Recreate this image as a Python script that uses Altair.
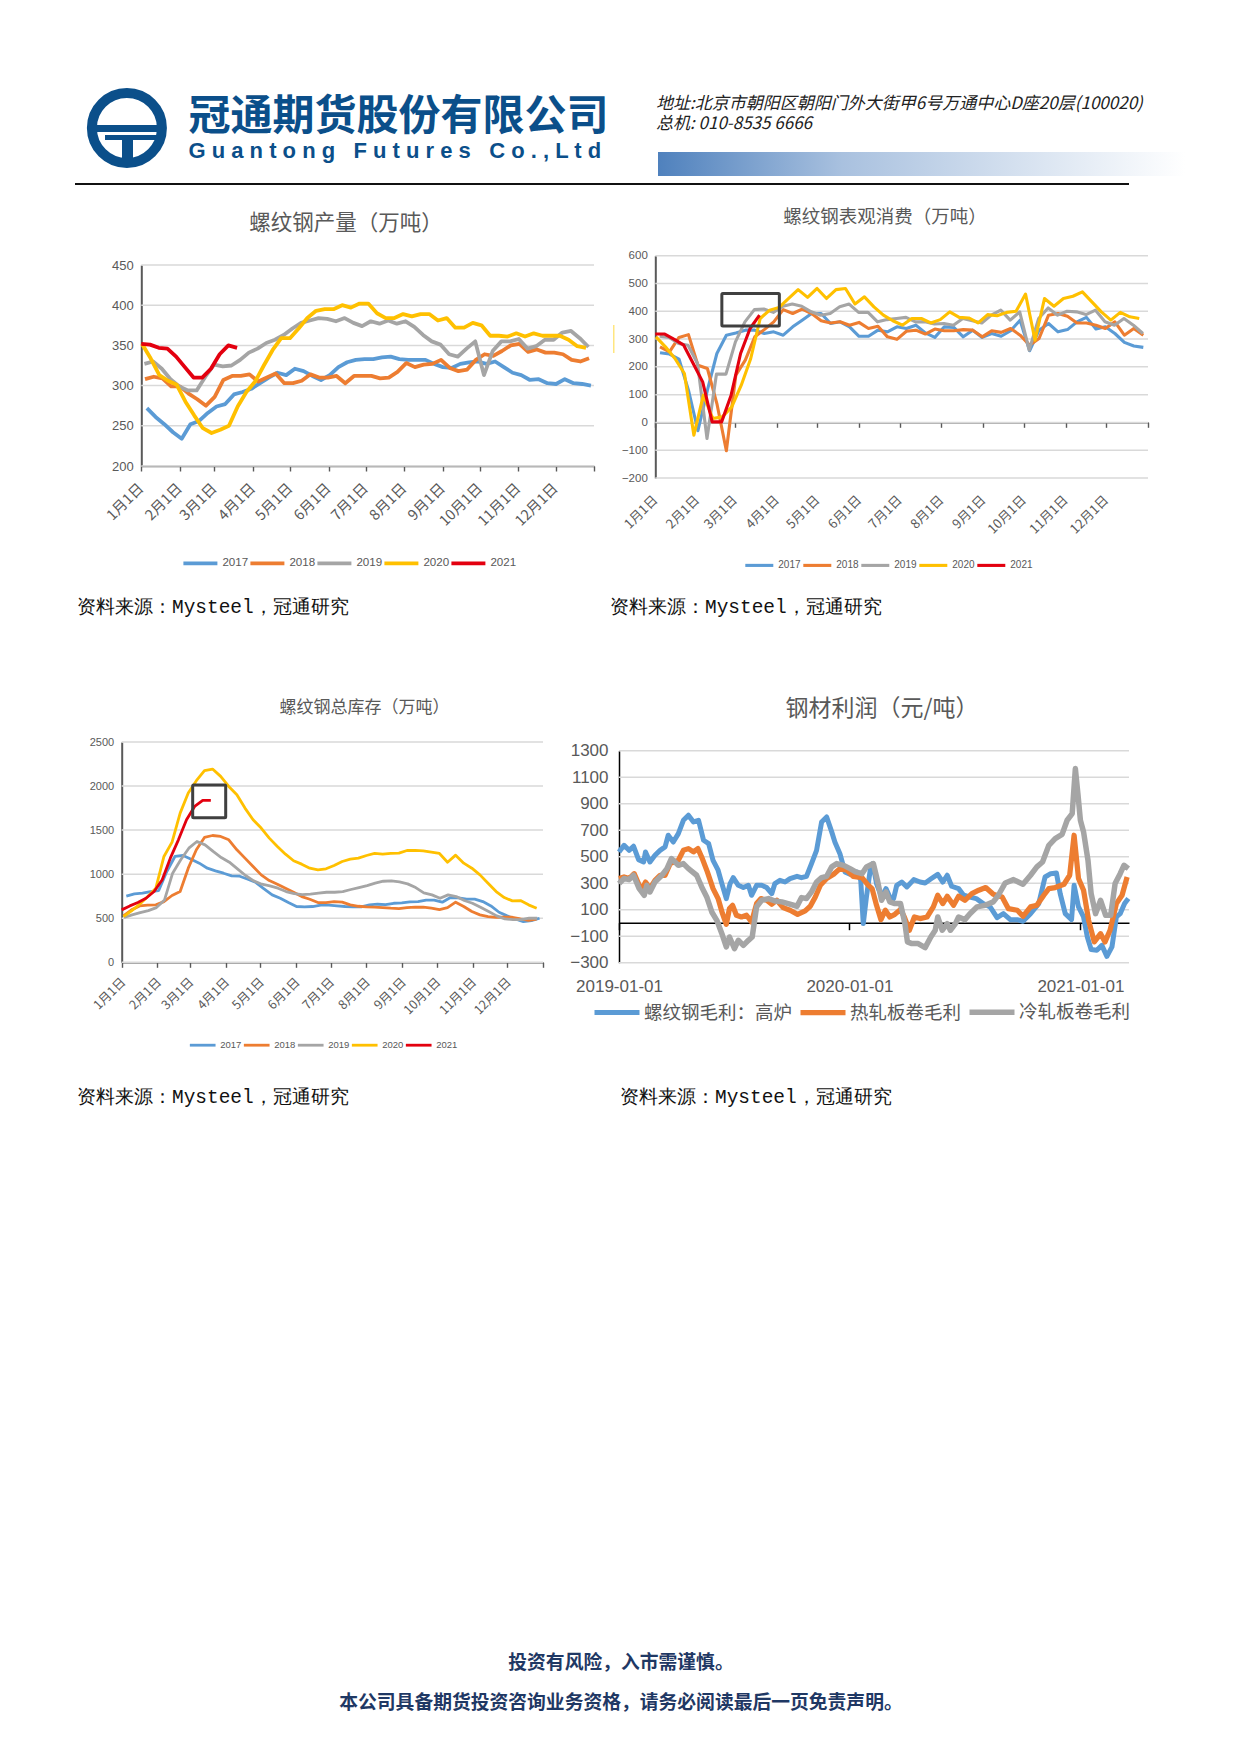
import json
import altair as alt
import pandas as pd

YEARS = ["2017", "2018", "2019", "2020", "2021"]
YEAR_COLORS = ["#5B9BD5", "#ED7D31", "#A5A5A5", "#FFC000", "#E3000F"]
MONTH_TICKS = [0, 31, 59, 90, 120, 151, 181, 212, 243, 273, 304, 334, 365]
MONTH_LABELS = ["1月1日", "2月1日", "3月1日", "4月1日", "5月1日", "6月1日", "7月1日", "8月1日",
                "9月1日", "10月1日", "11月1日", "12月1日", ""]

# panel 1: output
out_2017 = [272, 261, 252, 242, 234, 252, 256, 266, 274, 277, 289, 292, 296, 303, 310, 316, 313, 321, 318, 312,
            307, 313, 323, 329, 332, 333, 333, 335, 336, 333, 332, 332, 332, 327, 323, 322, 327, 329, 330, 327,
            330, 323, 316, 313, 307, 308, 303, 302, 308, 303, 302, 300]
out_2018 = [308, 311, 309, 299, 299, 290, 283, 275, 286, 307, 312, 312, 314, 305, 310, 315, 303, 303, 306, 314,
            310, 310, 312, 303, 312, 312, 312, 309, 310, 317, 328, 323, 326, 327, 332, 322, 318, 320, 332, 339,
            337, 343, 350, 352, 342, 345, 341, 341, 339, 332, 330, 334]
out_2019 = [327, 330, 321, 308, 299, 294, 294, 311, 326, 324, 325, 332, 341, 346, 353, 357, 363, 371, 378, 381,
            384, 383, 380, 384, 378, 374, 380, 377, 381, 377, 380, 373, 363, 355, 351, 339, 336, 346, 355, 313,
            343, 355, 355, 358, 346, 349, 357, 357, 366, 368, 359, 348]
out_2020 = [352, 334, 313, 306, 301, 280, 263, 247, 241, 245, 250, 274, 292, 305, 325, 344, 359, 359, 371, 384,
            393, 395, 395, 400, 397, 402, 402, 390, 384, 384, 389, 386, 389, 389, 381, 384, 372, 372, 378, 375,
            362, 362, 361, 365, 361, 365, 362, 362, 362, 357, 349, 347]
out_2021 = [352, 351, 347, 346, 336, 323, 310, 310, 321, 339, 350, 347]

# panel 2: apparent consumption
con_2017 = [251, 246, 228, 116, -30, 116, 248, 314, 322, 332, 332, 320, 326, 314, 344, 368, 392, 392, 356, 362,
            344, 310, 310, 332, 326, 344, 338, 350, 322, 306, 344, 342, 308, 332, 306, 320, 310, 330, 368, 258,
            332, 356, 326, 334, 362, 378, 336, 344, 320, 288, 275, 270]
con_2018 = [272, 254, 306, 316, 206, 194, 68, -102, 170, 224, 308, 334, 362, 406, 392, 408, 392, 366, 358, 362,
            350, 360, 338, 346, 308, 299, 328, 332, 318, 336, 330, 330, 334, 332, 308, 330, 324, 338, 314, 278,
            302, 386, 392, 382, 358, 358, 350, 338, 362, 314, 338, 314]
con_2019 = [310, 306, 284, 278, 212, -58, 174, 174, 290, 362, 406, 408, 396, 418, 426, 418, 398, 386, 392, 416,
            426, 396, 396, 362, 370, 374, 378, 362, 362, 354, 356, 350, 374, 366, 358, 386, 404, 368, 398, 260,
            374, 412, 386, 400, 398, 388, 404, 362, 350, 374, 350, 320]
con_2020 = [308, 272, 230, 176, -46, 98, 14, 20, 56, 134, 230, 374, 404, 414, 446, 478, 450, 482, 446, 478,
            482, 426, 452, 416, 386, 366, 350, 374, 374, 358, 370, 398, 378, 376, 358, 388, 384, 396, 400, 462,
            296, 446, 418, 446, 454, 470, 434, 398, 368, 396, 380, 374]
con_2021 = [318, 318, 299, 278, 212, 146, 2, 2, 98, 248, 338, 386]

# panel 3: total inventory
inv_2017 = [750, 776, 784, 803, 814, 1030, 1201, 1212, 1170, 1125, 1068, 1038, 1011, 981, 977, 943, 905, 833, 765, 727,
            678, 633, 629, 633, 648, 648, 640, 633, 629, 629, 652, 659, 655, 670, 674, 686, 689, 705, 705, 682,
            735, 731, 716, 716, 689, 640, 568, 527, 492, 462, 473, 500]
inv_2018 = [527, 595, 640, 648, 652, 689, 758, 803, 1068, 1277, 1417, 1439, 1428, 1390, 1277, 1182, 1087, 992, 928, 886,
            841, 795, 746, 716, 678, 678, 689, 682, 652, 636, 629, 625, 621, 614, 610, 621, 625, 625, 614, 598,
            621, 682, 633, 576, 538, 519, 511, 511, 511, 492, 477, 489]
inv_2019 = [508, 538, 564, 587, 621, 708, 1011, 1163, 1295, 1371, 1333, 1258, 1189, 1136, 1061, 985, 924, 886, 867, 841,
            803, 780, 769, 773, 784, 795, 795, 803, 826, 848, 871, 898, 920, 924, 913, 890, 848, 788, 765, 727,
            765, 746, 701, 670, 625, 576, 527, 492, 485, 485, 500, 500]
inv_2020 = [519, 583, 659, 746, 841, 1201, 1364, 1693, 1921, 2061, 2174, 2193, 2110, 1996, 1902, 1750, 1617, 1523, 1409, 1314,
            1227, 1152, 1114, 1068, 1049, 1061, 1098, 1144, 1170, 1182, 1212, 1235, 1227, 1235, 1239, 1269, 1269, 1265, 1250, 1235,
            1136, 1216, 1125, 1068, 992, 898, 803, 735, 697, 701, 652, 614]
inv_2021 = [595, 640, 678, 727, 803, 936, 1182, 1390, 1617, 1769, 1837, 1837]

# panel 4: profit (days since 2019-01-01, value)
rebar_days = [0, 8, 16, 23, 31, 39, 42, 49, 57, 65, 73, 78, 86, 94, 102, 110, 118, 126, 134, 142, 149, 157, 163, 170,
              176, 181, 189, 197, 205, 210, 218, 226, 234, 242, 247, 255, 263, 271, 282, 289, 297, 305, 313, 321,
              329, 337, 342, 350, 358, 366, 377, 383, 387, 392, 398, 402, 408, 416, 423, 429, 435, 440, 448, 456,
              467, 477, 485, 495, 505, 513, 520, 527, 538, 546, 556, 566, 577, 588, 599, 609, 620, 631, 640, 652,
              665, 675, 684, 693, 699, 707, 717, 721, 728, 736, 742, 748, 757, 765, 773, 781, 788, 794, 801, 807]
rebar_vals = [536, 586, 548, 579, 478, 460, 536, 460, 511, 548, 574, 662, 611, 674, 775, 813, 762, 775, 624, 599, 473,
              398, 297, 184, 297, 342, 284, 267, 284, 209, 284, 284, 267, 221, 297, 322, 309, 335, 352, 342, 352, 448,
              548, 762, 800, 687, 611, 523, 385, 367, 385, 322, -5, 196, 398, 448, 297, 196, 259, 196, 184, 284, 309,
              272, 327, 309, 302, 335, 367, 309, 360, 277, 259, 209, 196, 184, 146, 121, 40, 70, 25, 25, 13, 70, 146,
              347, 372, 377, 221, 70, 25, 284, 121, 45, -106, -201, -206, -169, -252, -181, 45, 70, 146, 184]
hot_days = [0, 8, 16, 24, 32, 37, 42, 49, 57, 65, 73, 81, 94, 102, 110, 118, 125, 132, 140, 149, 157, 164, 170, 175,
            180, 186, 194, 202, 210, 218, 225, 234, 242, 250, 260, 271, 283, 295, 303, 311, 319, 329, 340, 350, 361,
            371, 385, 395, 401, 408, 415, 422, 429, 437, 446, 452, 460, 468, 477, 488, 498, 505, 513, 520, 530, 538,
            548, 559, 570, 581, 593, 607, 617, 631, 640, 652, 662, 673, 681, 691, 705, 714, 721, 728, 736, 744, 753,
            763, 770, 778, 788, 797, 805]
hot_vals = [335, 347, 335, 372, 284, 259, 309, 259, 322, 360, 360, 448, 473, 548, 561, 536, 561, 486, 385, 259, 184, 70,
            -10, 108, 133, 58, 45, 58, 8, 146, 184, 171, 141, 171, 116, 96, 65, 91, 126, 196, 284, 335, 367, 410, 398,
            352, 342, 284, 259, 133, 25, 96, 45, 65, 101, 45, -55, 45, 33, 45, 121, 209, 146, 201, 133, 201, 171, 221,
            247, 267, 216, 196, 108, 96, 50, 121, 133, 209, 259, 267, 292, 360, 662, 335, 247, 20, -143, -81, -143,
            -55, 146, 209, 347]
cold_days = [0, 8, 16, 23, 32, 40, 44, 49, 57, 68, 76, 83, 94, 102, 110, 123, 131, 139, 147, 155, 163, 170, 175, 183,
             189, 197, 205, 211, 218, 226, 237, 247, 258, 268, 282, 289, 297, 305, 313, 321, 329, 337, 345, 356, 366,
             375, 385, 392, 403, 410, 416, 423, 429, 437, 446, 453, 457, 464, 474, 485, 494, 501, 505, 512, 520, 525,
             533, 538, 548, 556, 567, 580, 593, 601, 612, 625, 640, 652, 662, 671, 681, 691, 702, 710, 718, 723, 727,
             731, 736, 743, 748, 755, 763, 771, 779, 786, 794, 800, 807]
cold_vals = [297, 335, 327, 360, 259, 209, 284, 234, 309, 360, 410, 486, 435, 448, 410, 360, 272, 196, 83, 20, -81, -181,
             -106, -194, -131, -169, -131, -106, 121, 171, 184, 166, 159, 146, 126, 191, 184, 234, 309, 342, 352, 423,
             448, 435, 410, 385, 372, 423, 448, 309, 171, 234, 159, 146, 146, -5, -143, -156, -156, -186, -106, -55, 45,
             -55, -5, -55, -5, 45, 25, 70, 121, 133, 159, 209, 302, 327, 292, 360, 423, 460, 586, 637, 669, 775, 825,
             1165, 976, 775, 687, 473, 221, 70, 171, 58, 58, 297, 372, 435, 410]
PROFIT_NAMES = ["螺纹钢毛利：高炉", "热轧板卷毛利", "冷轧板卷毛利"]
PROFIT_COLORS = ["#5B9BD5", "#ED7D31", "#A5A5A5"]
PROFIT_WIDTHS = [5, 5.5, 2.6]

SOURCE = "资料来源：Mysteel，冠通研究"
CJK = "Noto Sans CJK SC"
GRAY = "#595959"
GRID = "#D9D9D9"
CANVAS_W, CANVAS_H = 1225, 1738


def year_frame(series, starts):
    rows = []
    for year, values, start in zip(YEARS, series, starts):
        for i, v in enumerate(values):
            rows.append({"day": start + 7.02 * i, "value": v, "year": year})
    return pd.DataFrame(rows)


def grid_layer(ticks, y, left, right):
    return alt.Chart(pd.DataFrame({"value": ticks})).mark_rule(color=GRID, strokeWidth=1.5).encode(
        y=y, x=alt.value(left - 8), x2=alt.value(right - 8))


def season_panel(series, starts, domain, yticks, box_page, font, yfont, sw, axis_y, lab_pad, lab_off, legend, box=None, dom_col=GRAY):
    left, right, top, bottom = box_page
    labels_json = json.dumps(MONTH_LABELS, ensure_ascii=False)
    ticks_json = json.dumps(MONTH_TICKS)
    x_axis = alt.Axis(values=MONTH_TICKS, orient="bottom", labelExpr=f"{labels_json}[indexof({ticks_json}, datum.value)]",
                      labelAngle=-45, labelAlign="right", labelBaseline="top", labelFontSize=font,
                      labelColor=GRAY, labelFont=CJK, labelPadding=lab_pad, labelOffset=lab_off, labelOverlap=False,
                      labelFlush=False, offset=-(CANVAS_H - (axis_y - 8)), domainColor=dom_col, domainWidth=1.6,
                      tickColor=dom_col, tickWidth=1.4, tickSize=5, grid=False, title=None)
    y_axis = alt.Axis(values=yticks, orient="left", format="d", labelFontSize=yfont, labelColor=GRAY,
                      labelFont="Liberation Sans", labelPadding=8, labelOverlap=False, ticks=False,
                      offset=-(left - 8), domainColor=dom_col, domainWidth=2, grid=False, title=None)
    x = alt.X("day:Q", scale=alt.Scale(domain=[0, 365], range=[left - 8, right - 8], nice=False, zero=False), axis=x_axis)
    y = alt.Y("value:Q", scale=alt.Scale(domain=domain, range=[bottom - 8, top - 8], nice=False, zero=False), axis=y_axis)
    lines = alt.Chart(year_frame(series, starts)).mark_line(strokeWidth=sw, strokeJoin="round", interpolate="linear").encode(
        x=x, y=y, color=alt.Color("year:N", scale=alt.Scale(domain=YEARS, range=YEAR_COLORS),
                                  legend=alt.Legend(orient="none", direction="horizontal", columns=5, title=None,
                                                    symbolType="stroke", symbolStrokeWidth=sw,
                                                    legendX=legend[0] - 8, legendY=legend[1] - 8 - 15 - legend[3] / 2,
                                                    symbolSize=legend[2] ** 2, labelFontSize=legend[3],
                                                    labelColor=GRAY, labelFont="Liberation Sans",
                                                    labelOffset=3, columnPadding=legend[4], padding=0)),
        detail="year:N", order="day:Q")
    layers = [grid_layer(yticks, y, left, right), lines]
    if box:
        b = pd.DataFrame([{"day": box[0], "day2": box[1], "value": box[2], "value2": box[3]}])
        layers.append(alt.Chart(b).mark_rect(fillOpacity=0, stroke="#404040", strokeWidth=3, cornerRadius=1).encode(
            x=x, x2=alt.X2("day2:Q"), y=y, y2=alt.Y2("value2:Q")))
    return alt.layer(*layers)


def profit_panel(left, right, top, bottom, axis_y):
    rows = []
    for name, days, vals in zip(PROFIT_NAMES, [rebar_days, hot_days, cold_days], [rebar_vals, hot_vals, cold_vals]):
        for d, v in zip(days, vals):
            rows.append({"day": d, "value": v, "name": name})
    x_ticks = [0, 365, 731]
    x_labels = ["2019-01-01", "2020-01-01", "2021-01-01"]
    yticks = list(range(-300, 1301, 200))
    x_axis = alt.Axis(values=x_ticks, orient="bottom",
                      labelExpr=f"{json.dumps(x_labels)}[indexof({json.dumps(x_ticks)}, datum.value)]",
                      labelAngle=0, labelAlign="center", labelBaseline="top", labelFontSize=17, labelColor=GRAY,
                      labelFont="Liberation Sans", labelPadding=49, labelFlush=False, labelOverlap=False,
                      offset=-(CANVAS_H - (axis_y - 8)),
                      domainColor="#000000", domainWidth=1.5, tickColor="#000000", tickWidth=1.5, tickSize=7,
                      grid=False, title=None)
    y_axis = alt.Axis(values=yticks, orient="left", format="d", labelFontSize=17, labelColor=GRAY,
                      labelFont="Liberation Sans", labelPadding=11, labelOverlap=False, ticks=False,
                      offset=-(left - 8), domainColor="#000000", domainWidth=1.5, grid=False, title=None)
    legend = alt.Legend(orient="none", direction="horizontal", columns=3, title=None, symbolType="stroke",
                        legendX=591.5 - 8, legendY=1010.5 - 8 - 15 - 9, symbolSize=45 ** 2, labelFontSize=18.5,
                        labelColor=GRAY, labelFont=CJK, labelOffset=1.5, columnPadding=-3, padding=0, labelLimit=200)
    x = alt.X("day:Q", scale=alt.Scale(domain=[0, 808], range=[left - 8, right - 8], nice=False, zero=False), axis=x_axis)
    y = alt.Y("value:Q", scale=alt.Scale(domain=[-300, 1300], range=[bottom - 8, top - 8], nice=False, zero=False), axis=y_axis)
    lines = alt.Chart(pd.DataFrame(rows)).mark_line(strokeJoin="round").encode(
        x=x, y=y,
        color=alt.Color("name:N", scale=alt.Scale(domain=PROFIT_NAMES, range=PROFIT_COLORS), legend=legend),
        strokeWidth=alt.StrokeWidth("name:N", scale=alt.Scale(domain=PROFIT_NAMES, range=PROFIT_WIDTHS), legend=legend),
        order="day:Q")
    return alt.layer(grid_layer(yticks, y, left, right), lines)


def text_mark(t, x, y, size, color, font=CJK, weight="normal", italic=False, align="left"):
    kw = {"fontStyle": "italic"} if italic else {}
    return alt.Chart(pd.DataFrame({"t": [t]})).mark_text(
        fontSize=size, color=color, font=font, fontWeight=weight, align=align, baseline="middle", **kw
    ).encode(text="t:N", x=alt.value(x - 8), y=alt.value(y - 8))


def rect_mark(x1, x2, y1, y2, color):
    return alt.Chart(pd.DataFrame({"k": [0]})).mark_rect(color=color).encode(
        x=alt.value(x1 - 8), x2=alt.value(x2 - 8), y=alt.value(y1 - 8), y2=alt.value(y2 - 8))


BLUE = "#0B4F8A"
NAVY = "#1F3864"
ring = alt.Chart(pd.DataFrame({"k": [0]})).mark_point(shape="circle", size=4900, strokeWidth=10, color=BLUE, filled=False, opacity=1).encode(
    x=alt.value(126.9 - 8), y=alt.value(128 - 8))
gradient = alt.Gradient(gradient="linear", x1=0, x2=1, y1=0, y2=0,
                        stops=[alt.GradientStop(color="#4F81BD", offset=0), alt.GradientStop(color="#A9C1DF", offset=0.35),
                               alt.GradientStop(color="#FFFFFF", offset=1)])
latin = "\u00a0\u00a0\u00a0".join(" ".join(word) for word in ["Guantong", "Futures", "Co.,Ltd"])

p1 = season_panel([out_2017, out_2018, out_2019, out_2020, out_2021], [4.5, 3, 2.5, 0.5, 0],
                  [200, 450], [200, 250, 300, 350, 400, 450], (141.3, 594, 265, 466), 14.5, 13, 3.8, 466, 10, -5,
                  (181.4, 565, 34, 11.6, -7))
p2 = season_panel([con_2017, con_2018, con_2019, con_2020, con_2021], [3.5, 3.5, 3.2, 0.5, 0],
                  [-200, 600], list(range(-200, 601, 100)), (655.3, 1148, 255.7, 478), 13, 11.5, 3.1, 422.3, 66, -4.5,
                  (743.3, 569, 28, 10, -10.5), box=(49.3, 91.9, 347, 464))
p3 = season_panel([inv_2017, inv_2018, inv_2019, inv_2020, inv_2021], [4, 1.5, 2, 1.5, 0],
                  [0, 2500], [0, 500, 1000, 1500, 2000, 2500], (121.7, 543, 742, 962.3), 12.5, 11, 2.8, 962.3, 8, -3,
                  (188.2, 1050, 25.7, 9.5, -13.5), box=(61.5, 90.1, 1641, 2012))
p4 = profit_panel(619, 1129, 750.7, 962.7, 922.7)

chart = alt.layer(
    ring,
    rect_mark(92, 160, 125, 132, BLUE),
    rect_mark(105, 156, 135, 140, BLUE),
    rect_mark(122, 133, 140, 160, BLUE),
    text_mark("冠通期货股份有限公司", 188.5, 117, 42, BLUE, weight="bold"),
    text_mark(latin, 188.5, 151, 22, BLUE, font="Liberation Sans", weight="bold"),
    text_mark("地址:北京市朝阳区朝阳门外大街甲6号万通中心D座20层(100020)", 656, 103.5, 17, "#222222", italic=True),
    text_mark("总机: 010-8535 6666", 656, 123.5, 17, "#222222", italic=True),
    rect_mark(658, 1185, 152, 176, gradient),
    rect_mark(75, 1129, 183, 185, "#111111"),
    rect_mark(613, 614.5, 325, 353, "#FFE680"),
    text_mark("螺纹钢产量（万吨）", 346, 223.5, 21.5, GRAY, align="center"),
    text_mark("螺纹钢表观消费（万吨）", 885, 216.7, 18.5, GRAY, align="center"),
    text_mark("螺纹钢总库存（万吨）", 364.4, 708, 17, GRAY, align="center"),
    text_mark("钢材利润（元/吨）", 882, 708.6, 23, GRAY, align="center"),
    p1, p2, p3, p4,
    text_mark(SOURCE, 77, 607, 19.45, "#111111", font="Liberation Mono"),
    text_mark(SOURCE, 610, 607, 19.45, "#111111", font="Liberation Mono"),
    text_mark(SOURCE, 77, 1097, 19.45, "#111111", font="Liberation Mono"),
    text_mark(SOURCE, 620, 1097, 19.45, "#111111", font="Liberation Mono"),
    text_mark("投资有风险，入市需谨慎。", 621, 1662.5, 18.8, NAVY, weight="bold", align="center"),
    text_mark("本公司具备期货投资咨询业务资格，请务必阅读最后一页免责声明。", 621, 1703, 18.8, NAVY, weight="bold", align="center"),
).resolve_scale(x="independent", y="independent", color="independent", strokeWidth="independent").properties(
    width=CANVAS_W, height=CANVAS_H, autosize="none", padding=0).configure_view(stroke=None)
chart.save("out.html", embed_options={"renderer": "svg", "actions": False})
